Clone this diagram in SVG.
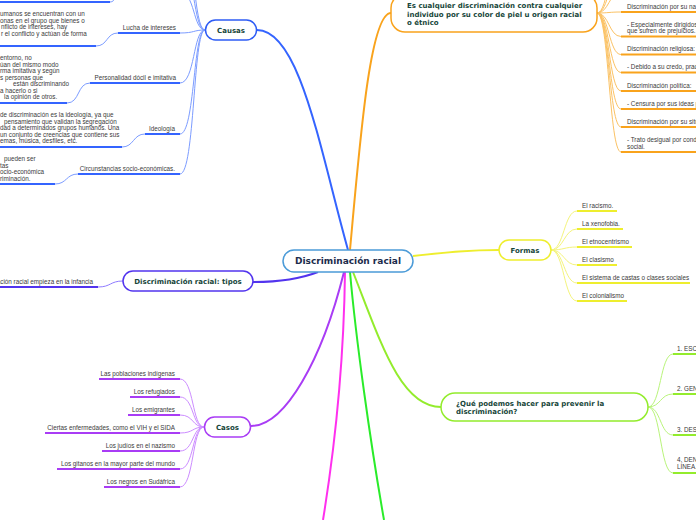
<svg xmlns="http://www.w3.org/2000/svg" width="696" height="520" viewBox="0 0 696 520">
<style>
.bg{fill:#ffffff}
.t{font-family:"Liberation Sans",Arial,sans-serif;font-size:6.3px;fill:#3a3a3a}
.e{text-anchor:end}
.nt{font-family:"DejaVu Sans",Verdana,sans-serif;font-weight:bold;font-size:7px;fill:#17463a}
.c{text-anchor:middle}
.box{fill:#ffffff;stroke-width:1.5}
.m{fill:none;stroke-width:2}
.s{fill:none;stroke-width:1}
.u{stroke-width:2;fill:none}
.blue{stroke:#3464ff}.sblue{stroke:#7c9cff}
.org{stroke:#f9a31c}.sorg{stroke:#fbc264}
.yel{stroke:#eeee2e}.syel{stroke:#f4f47c}
.lim{stroke:#93ec2c}.slim{stroke:#b9f47a}
.grn{stroke:#2aec2a}
.mag{stroke:#ff30ee}
.pur{stroke:#a93cf5}.spur{stroke:#cc8cff}
.ind{stroke:#5234ee}.sind{stroke:#8f7bff}
</style>
<rect class="bg" x="0" y="0" width="696" height="520"/>
<g id="connectors">
<path class="m blue" d="M348,250 C320,150 300,30 257,30"/>
<path class="m org" d="M350,250 C360,140 370,13 391,13"/>
<path class="m yel" d="M413,256 C450,252 470,250 499,250"/>
<path class="m lim" d="M353,272 C380,340 400,407 441,407"/>
<path class="m grn" d="M350,272 C356,340 370,440 384,520"/>
<path class="m mag" d="M345,272 C344,350 336,440 323,520"/>
<path class="m pur" d="M344,272 C322,360 285,426 251,426"/>
<path class="m ind" d="M318,272 C300,279 280,282 253,282"/>
<path class="s sblue" d="M205,30 C193,30 195,-8 180,-8"/>
<path class="s sblue" d="M205,30 C193,30 195,-35 180,-35"/>
<path class="s sblue" d="M205,30 C193,30 195,-65 180,-65"/>
<path class="s sblue" d="M205,30 C193,30 195,33 180,33"/>
<path class="s sblue" d="M205,30 C193,30 195,83 180,83"/>
<path class="s sblue" d="M205,30 C193,30 195,134 180,134"/>
<path class="s sblue" d="M205,30 C193,30 195,174 180,174"/>
<path class="s sblue" d="M110,2 C116,2 114,-6 120,-6"/>
<path class="s sblue" d="M96,46 C108,46 106,33 118,33"/>
<path class="s sblue" d="M67,103 C80,103 77,83 90,83"/>
<path class="s sblue" d="M122,147 C134,147 133,134 145,134"/>
<path class="s sblue" d="M55,184 C67,184 66,174 78,174"/>
<path class="s sorg" d="M597,13 C609,13 609,-8 621,-8"/>
<path class="s sorg" d="M597,13 C609,13 609,-28 621,-28"/>
<path class="s sorg" d="M597,13 C609,13 609,-50 621,-50"/>
<path class="s sorg" d="M597,13 C609,13 609,12 621,12"/>
<path class="s sorg" d="M597,13 C609,13 609,36.5 621,36.5"/>
<path class="s sorg" d="M597,13 C609,13 609,54.5 621,54.5"/>
<path class="s sorg" d="M597,13 C609,13 609,72.5 621,72.5"/>
<path class="s sorg" d="M597,13 C609,13 609,91 621,91"/>
<path class="s sorg" d="M597,13 C609,13 609,109 621,109"/>
<path class="s sorg" d="M597,13 C609,13 609,127 621,127"/>
<path class="s sorg" d="M597,13 C609,13 609,152 621,152"/>
<path class="s syel" d="M551,250 C564,250 564,211 577,211"/>
<path class="s syel" d="M551,250 C564,250 564,229 577,229"/>
<path class="s syel" d="M551,250 C564,250 564,247 577,247"/>
<path class="s syel" d="M551,250 C564,250 564,265 577,265"/>
<path class="s syel" d="M551,250 C564,250 564,283 577,283"/>
<path class="s syel" d="M551,250 C564,250 564,301 577,301"/>
<path class="s slim" d="M648,407 C661,407 660,354 673,354"/>
<path class="s slim" d="M648,407 C661,407 660,394 673,394"/>
<path class="s slim" d="M648,407 C661,407 660,435 673,435"/>
<path class="s slim" d="M648,407 C661,407 660,473 673,473"/>
<path class="s spur" d="M204,427 C192,427 194,379 180,379"/>
<path class="s spur" d="M204,427 C192,427 194,397 180,397"/>
<path class="s spur" d="M204,427 C192,427 194,415 180,415"/>
<path class="s spur" d="M204,427 C192,427 194,433 180,433"/>
<path class="s spur" d="M204,427 C192,427 194,451 180,451"/>
<path class="s spur" d="M204,427 C192,427 194,469 180,469"/>
<path class="s spur" d="M204,427 C192,427 194,487 180,487"/>
<path class="s sind" d="M123,281 C110,281 111,287 98,287"/>
</g>

<g id="central">
<rect class="box" x="283" y="250" width="130" height="22" rx="11" stroke="#4b9bd8"/>
<text class="nt c" x="348" y="264.3" style="font-size:9px;fill:#1c2c4c">Discriminación racial</text>
</g>

<g id="causas">
<rect class="box" x="205.5" y="20" width="51" height="20" rx="10" stroke="#2e5cf5"/>
<text class="nt c" x="231" y="32.5">Causas</text>
</g>
<g id="causas-top-detail"><line class="u blue" x1="0" y1="2" x2="110" y2="2"/></g>
<g id="lucha">
<text class="t e" x="176" y="29.5">Lucha de intereses</text>
<line class="u blue" x1="118" y1="33" x2="180" y2="33"/>
</g>
<g id="lucha-detail">
<text class="t" x="0" y="16">umanos se encuentran con un</text>
<text class="t" x="0" y="22.5">onas en el grupo que bienes o</text>
<text class="t" x="1" y="29">nflicto de intereses, hay</text>
<text class="t" x="1" y="35.5">r el conflicto y actúan de forma</text>
<line class="u blue" x1="0" y1="46" x2="96" y2="46"/>
</g>
<g id="personalidad">
<text class="t e" x="176" y="80">Personalidad dócil e imitativa</text>
<line class="u blue" x1="90" y1="83" x2="180" y2="83"/>
</g>
<g id="personalidad-detail">
<text class="t" x="0" y="60">entorno, no</text>
<text class="t" x="0" y="66.5">úan del mismo modo</text>
<text class="t" x="0" y="73">rma imitativa y según</text>
<text class="t" x="0" y="79.5">s personas que</text>
<text class="t" x="13" y="86">están discriminando</text>
<text class="t" x="0" y="92.5">a hacerlo o si</text>
<text class="t" x="4" y="99">la opinión de otros.</text>
<line class="u blue" x1="0" y1="103" x2="67" y2="103"/>
</g>
<g id="ideologia">
<text class="t e" x="175" y="130.5">Ideología</text>
<line class="u blue" x1="145" y1="134" x2="180" y2="134"/>
</g>
<g id="ideologia-detail">
<text class="t" x="0" y="117">de discriminación es la ideología, ya que</text>
<text class="t" x="4" y="123.5">pensamiento que validan la segregación</text>
<text class="t" x="0" y="130">dad a determinados grupos humanos. Una</text>
<text class="t" x="0" y="136.5">un conjunto de creencias que contiene sus</text>
<text class="t" x="0" y="143">emas, música, desfiles, etc.</text>
<line class="u blue" x1="0" y1="147" x2="122" y2="147"/>
</g>
<g id="circunstancias">
<text class="t e" x="175" y="171">Circunstancias socio-económicas.</text>
<line class="u blue" x1="78" y1="174" x2="180" y2="174"/>
</g>
<g id="circunstancias-detail">
<text class="t" x="4" y="161">pueden ser</text>
<text class="t" x="0" y="167.5">tas</text>
<text class="t" x="0" y="174">ocio-económica</text>
<text class="t" x="0" y="180.5">riminación.</text>
<line class="u blue" x1="0" y1="184" x2="55" y2="184"/>
</g>

<g id="definicion">
<rect class="box" x="391" y="-6" width="206" height="38" rx="14" stroke="#f9a31c"/>
<text class="nt" x="407" y="7.5">Es cualquier discriminación contra cualquier</text>
<text class="nt" x="407" y="16.5">individuo por su color de piel u origen racial</text>
<text class="nt" x="407" y="25">o étnico</text>
</g>
<g id="def-1"><text class="t" x="627" y="8.5">Discriminación por su na</text><line class="u org" x1="621" y1="12" x2="696" y2="12"/></g>
<g id="def-2"><text class="t" x="627" y="26.5">- Especialmente dirigidos</text><text class="t" x="627" y="33">que sufren de prejuicios.</text><line class="u org" x1="621" y1="36.5" x2="696" y2="36.5"/></g>
<g id="def-3"><text class="t" x="627" y="51">Discriminación religiosa:</text><line class="u org" x1="621" y1="54.5" x2="696" y2="54.5"/></g>
<g id="def-4"><text class="t" x="627" y="69">- Debido a su credo, prac</text><line class="u org" x1="621" y1="72.5" x2="696" y2="72.5"/></g>
<g id="def-5"><text class="t" x="627" y="87.5">Discriminación política:</text><line class="u org" x1="621" y1="91" x2="696" y2="91"/></g>
<g id="def-6"><text class="t" x="627" y="105.5">- Censura por sus ideas p</text><line class="u org" x1="621" y1="109" x2="696" y2="109"/></g>
<g id="def-7"><text class="t" x="627" y="123.5">Discriminación por su situ</text><line class="u org" x1="621" y1="127" x2="696" y2="127"/></g>
<g id="def-8"><text class="t" x="627" y="142">- Trato desigual por cond</text><text class="t" x="627" y="148.5">social.</text><line class="u org" x1="621" y1="152" x2="696" y2="152"/></g>

<g id="formas">
<rect class="box" x="499" y="240" width="52" height="20" rx="10" stroke="#eeee2e"/>
<text class="nt c" x="525" y="252.5">Formas</text>
</g>
<g id="f-1"><text class="t" x="582" y="207.5">El racismo.</text><line class="u yel" x1="577" y1="211" x2="617" y2="211"/></g>
<g id="f-2"><text class="t" x="582" y="225.5">La xenofobia.</text><line class="u yel" x1="577" y1="229" x2="623" y2="229"/></g>
<g id="f-3"><text class="t" x="582" y="243.5">El etnocentrismo</text><line class="u yel" x1="577" y1="247" x2="632" y2="247"/></g>
<g id="f-4"><text class="t" x="582" y="261.5">El clasismo</text><line class="u yel" x1="577" y1="265" x2="617" y2="265"/></g>
<g id="f-5"><text class="t" x="582" y="279.5">El sistema de castas o clases sociales</text><line class="u yel" x1="577" y1="283" x2="690" y2="283"/></g>
<g id="f-6"><text class="t" x="582" y="297.5">El colonialismo</text><line class="u yel" x1="577" y1="301" x2="627" y2="301"/></g>

<g id="prevenir">
<rect class="box" x="441" y="393" width="207" height="28" rx="14" stroke="#93ec2c"/>
<text class="nt" x="456" y="405.5">¿Qué podemos hacer para prevenir la</text>
<text class="nt" x="456" y="414">discriminación?</text>
</g>
<g id="p-1"><text class="t" x="677" y="350.5">1. ESC</text><line class="u lim" x1="673" y1="354" x2="696" y2="354"/></g>
<g id="p-2"><text class="t" x="677" y="390.5">2. GEN</text><line class="u lim" x1="673" y1="394" x2="696" y2="394"/></g>
<g id="p-3"><text class="t" x="677" y="431.5">3. DES</text><line class="u lim" x1="673" y1="435" x2="696" y2="435"/></g>
<g id="p-4"><text class="t" x="677" y="461.5">4. DEN</text><text class="t" x="677" y="468.5">LÍNEA.</text><line class="u lim" x1="673" y1="473" x2="696" y2="473"/></g>

<g id="tipos">
<rect class="box" x="123" y="271" width="130" height="20" rx="10" stroke="#5234ee"/>
<text class="nt c" x="188" y="283.5">Discriminación racial: tipos</text>
</g>
<g id="tipos-1"><text class="t e" x="93" y="283.5">ación racial empieza en la infancia</text><line class="u ind" x1="0" y1="287" x2="98" y2="287"/></g>

<g id="casos">
<rect class="box" x="204.5" y="417" width="46" height="20" rx="10" stroke="#a93cf5"/>
<text class="nt c" x="227.5" y="429.5">Casos</text>
</g>
<g id="c-1"><text class="t e" x="175" y="375.5">Las poblaciones indígenas</text><line class="u pur" x1="99" y1="379" x2="180" y2="379"/></g>
<g id="c-2"><text class="t e" x="175" y="393.5">Los refugiados</text><line class="u pur" x1="130" y1="397" x2="180" y2="397"/></g>
<g id="c-3"><text class="t e" x="175" y="411.5">Los emigrantes</text><line class="u pur" x1="128" y1="415" x2="180" y2="415"/></g>
<g id="c-4"><text class="t e" x="175" y="429.5">Ciertas enfermedades, como el VIH y el SIDA</text><line class="u pur" x1="45" y1="433" x2="180" y2="433"/></g>
<g id="c-5"><text class="t e" x="175" y="447.5">Los judíos en el nazismo</text><line class="u pur" x1="102" y1="451" x2="180" y2="451"/></g>
<g id="c-6"><text class="t e" x="175" y="465.5">Los gitanos en la mayor parte del mundo</text><line class="u pur" x1="57" y1="469" x2="180" y2="469"/></g>
<g id="c-7"><text class="t e" x="175" y="483.5">Los negros en Sudáfrica</text><line class="u pur" x1="104" y1="487" x2="180" y2="487"/></g>
</svg>
